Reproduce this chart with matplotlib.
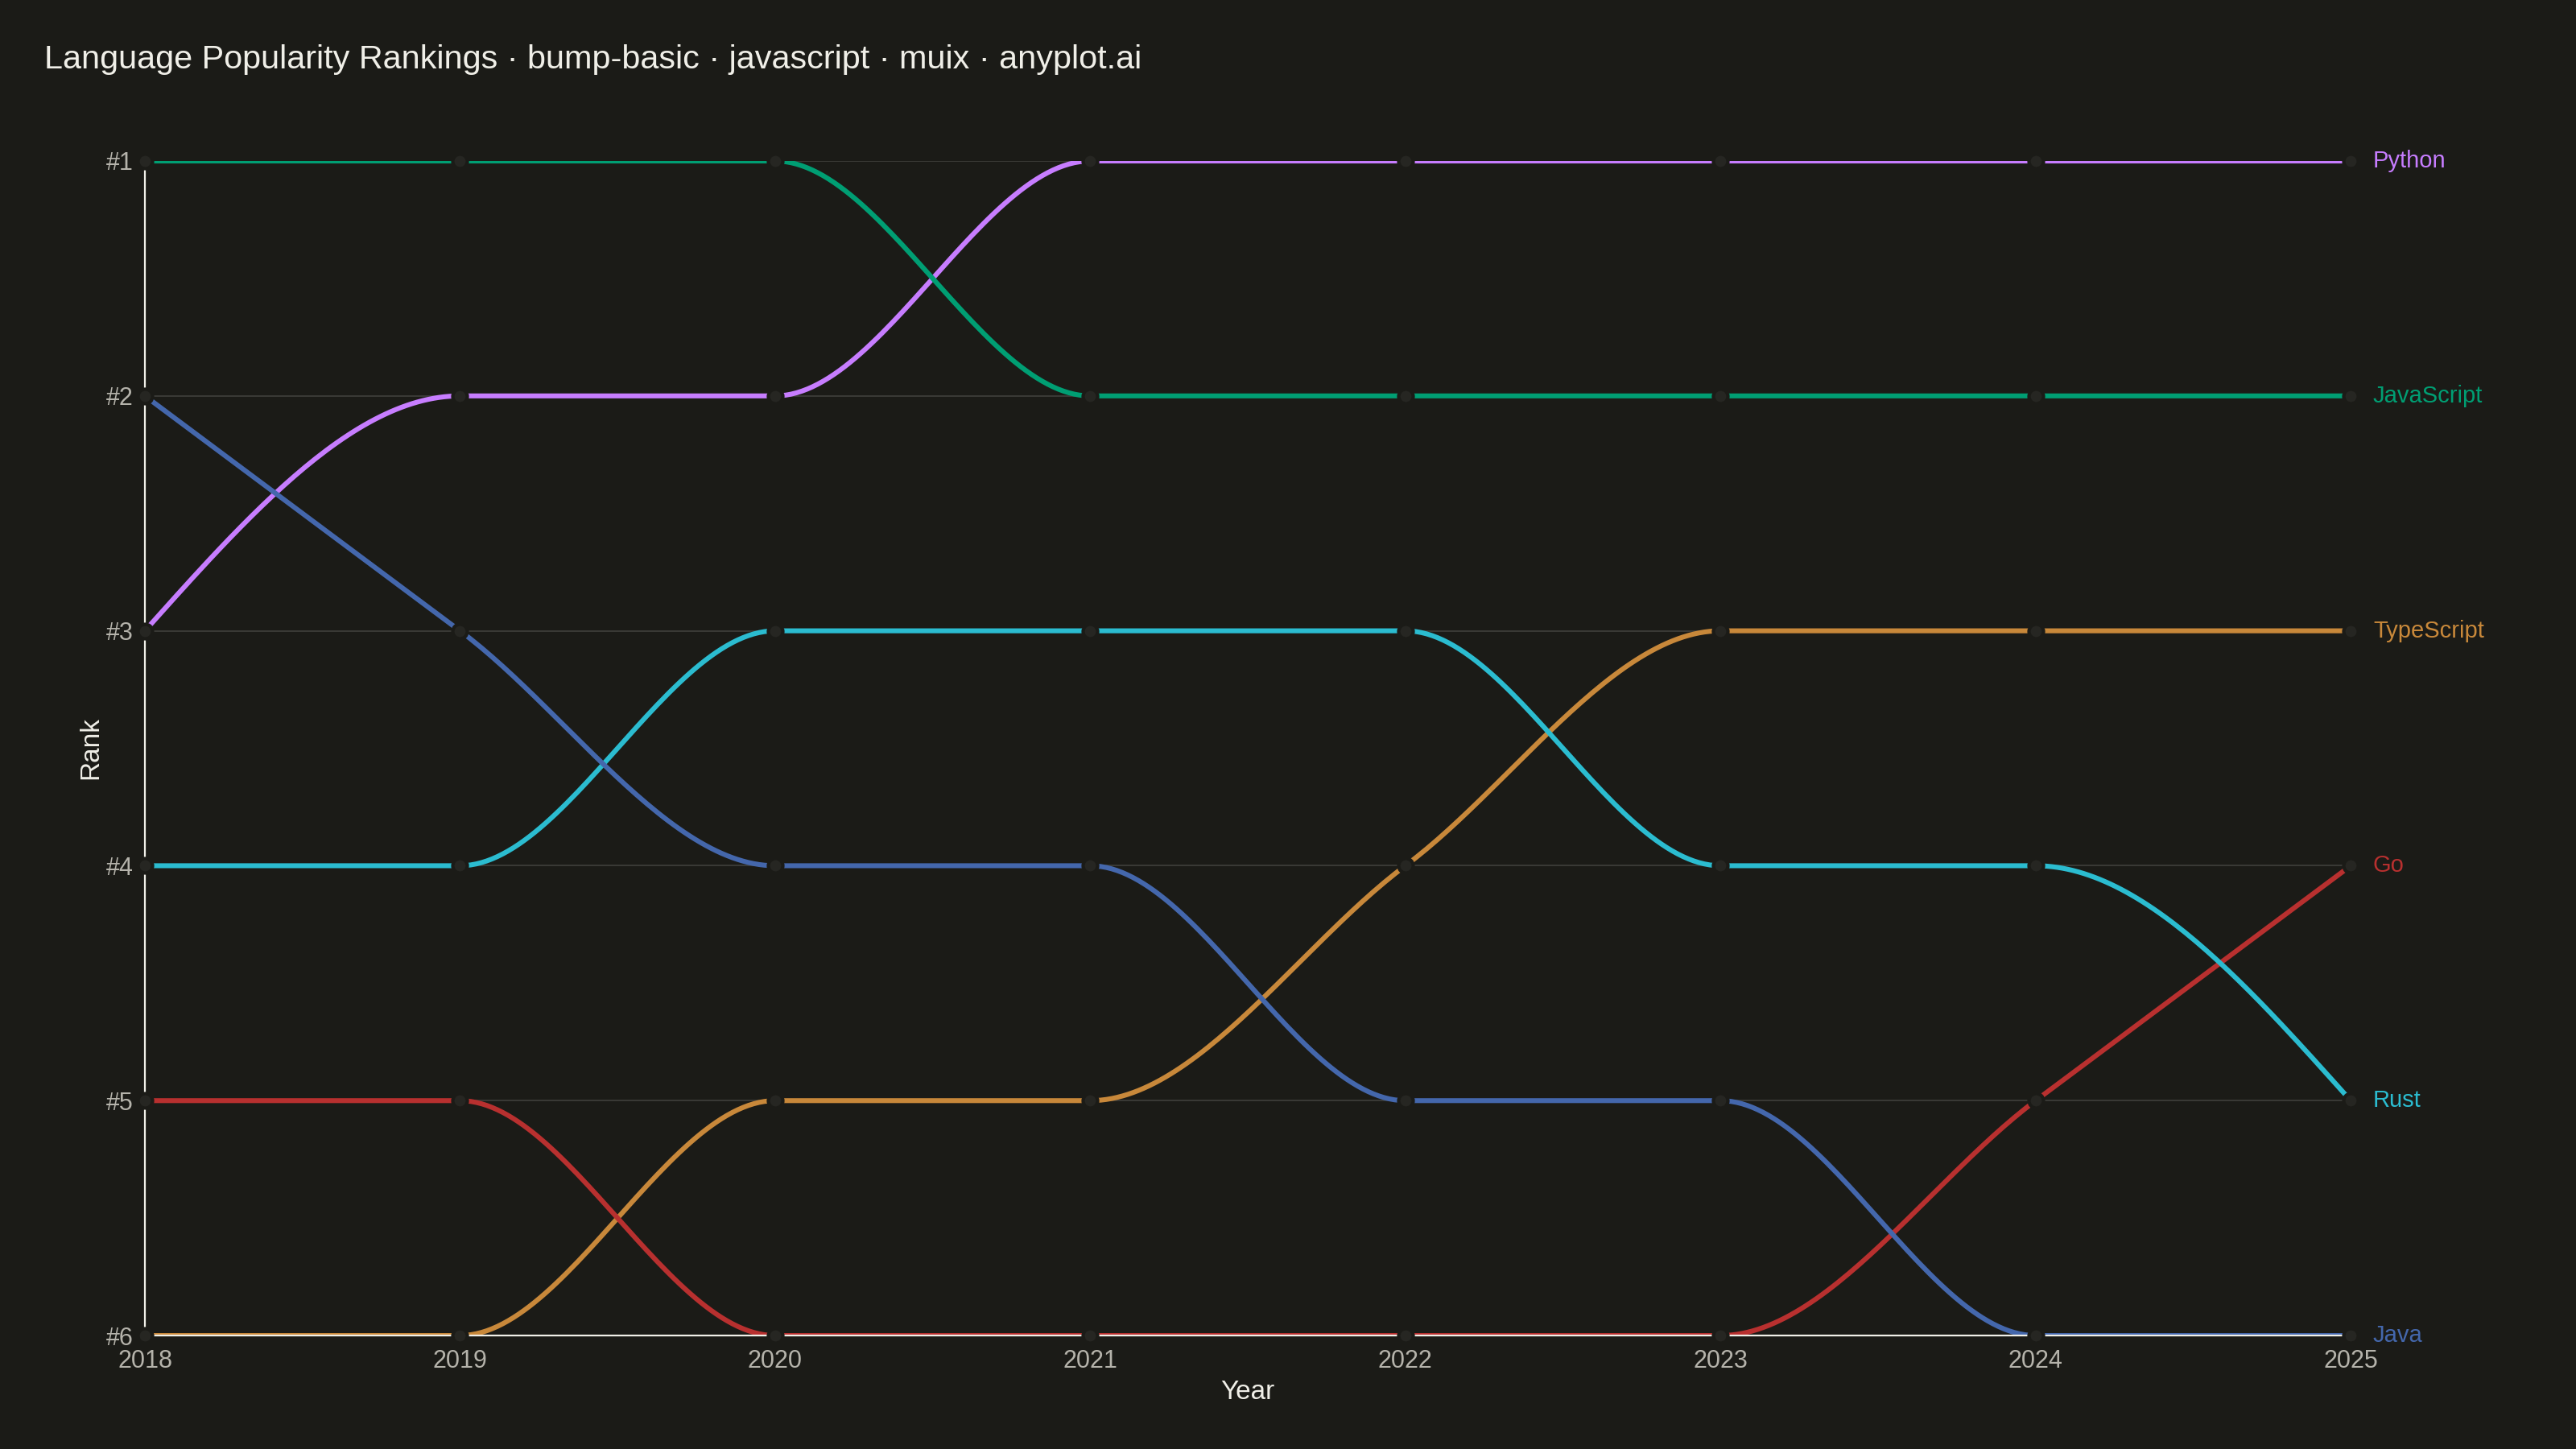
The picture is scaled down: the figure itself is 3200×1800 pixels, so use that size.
import numpy as np
import matplotlib.pyplot as plt

years = [2018, 2019, 2020, 2021, 2022, 2023, 2024, 2025]
languages = ["Python", "JavaScript", "TypeScript", "Go", "Rust", "Java"]
python_rank = [3, 2, 2, 1, 1, 1, 1, 1]
javascript_rank = [1, 1, 1, 2, 2, 2, 2, 2]
typescript_rank = [6, 6, 5, 5, 4, 3, 3, 3]
go_rank = [5, 5, 6, 6, 6, 6, 5, 4]
rust_rank = [4, 4, 3, 3, 3, 4, 4, 5]
java_rank = [2, 3, 4, 4, 5, 5, 6, 6]
colors = ["#C77DFF", "#009E73", "#C8883A", "#B8302F", "#2BBCD0", "#4467AC"]
rank_labels = ["#1", "#2", "#3", "#4", "#5", "#6"]

ranks = [python_rank, javascript_rank, typescript_rank, go_rank, rust_rank, java_rank]

BG = "#1B1B17"
FG = "#F0EFE8"


def monotone_curve(x, y, n=60):
    # same tangents as d3.curveMonotoneX
    x = np.asarray(x, float)
    y = np.asarray(y, float)
    h = np.diff(x)
    s = np.diff(y) / h
    t = np.zeros(len(x))
    for i in range(1, len(x) - 1):
        p = (s[i - 1] * h[i] + s[i] * h[i - 1]) / (h[i - 1] + h[i])
        t[i] = (np.sign(s[i - 1]) + np.sign(s[i])) * min(abs(s[i - 1]), abs(s[i]), 0.5 * abs(p))
    t[0] = (3 * s[0] - t[1]) / 2
    t[-1] = (3 * s[-1] - t[-2]) / 2
    xs, ys = [], []
    for i in range(len(x) - 1):
        u = np.linspace(0, 1, n)
        h00 = 2 * u**3 - 3 * u**2 + 1
        h10 = u**3 - 2 * u**2 + u
        h01 = -2 * u**3 + 3 * u**2
        h11 = u**3 - u**2
        xs.append(x[i] + u * h[i])
        ys.append(h00 * y[i] + h10 * h[i] * t[i] + h01 * y[i + 1] + h11 * h[i] * t[i + 1])
    return np.concatenate(xs), np.concatenate(ys)


plt.rcParams["font.family"] = ["Liberation Sans", "DejaVu Sans"]

fig = plt.figure(figsize=(16, 9), dpi=200, facecolor=BG)
ax = fig.add_axes([0.05625, 0.0783, 0.8563, 0.8106])
ax.set_facecolor(BG)

for name, r, c in zip(languages, ranks, colors):
    cx, cy = monotone_curve(years, r)
    ax.plot(cx, cy, color=c, lw=2.2, solid_capstyle="butt", zorder=3)
    ax.plot(years, r, "o", ms=6.5, mfc="#262622", mec=BG, mew=1.5, zorder=5, clip_on=False)
    ax.annotate(name, (years[-1], r[-1]), xytext=(10, 0), textcoords="offset points",
                color=c, fontsize=10.5, va="center", ha="left", annotation_clip=False)

ax.set_xlim(years[0], years[-1])
ax.set_ylim(6, 1)
ax.set_xticks(years)
ax.set_yticks(range(1, 7))
ax.set_yticklabels(rank_labels)
ax.grid(axis="y", color="#3A3A36", lw=0.7, zorder=0)
ax.set_axisbelow(True)

for side in ["top", "right"]:
    ax.spines[side].set_visible(False)
for side in ["left", "bottom"]:
    ax.spines[side].set_color(FG)
    ax.spines[side].set_linewidth(0.8)
    ax.spines[side].set_zorder(4)

ax.tick_params(colors=FG, labelcolor="#B5B3AB", labelsize=11, length=1, width=0.6, pad=4)
ax.tick_params(axis="x", pad=5)
ax.set_xlabel("Year", color=FG, fontsize=12, labelpad=3)
ax.set_ylabel("Rank", color=FG, fontsize=12, labelpad=1.5)

fig.text(0.0172, 0.959, "Language Popularity Rankings · bump-basic · javascript · muix · anyplot.ai",
         color=FG, fontsize=14.9, va="center", ha="left")

fig.savefig("out.png", dpi=200, facecolor=BG)
